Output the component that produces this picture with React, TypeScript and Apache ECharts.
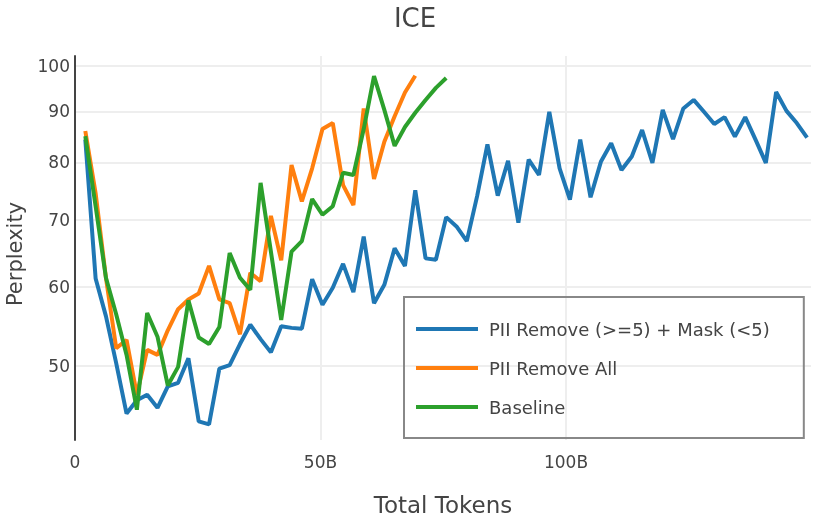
import React, { useEffect, useRef } from "react";
import * as echarts from "echarts";

// Total tokens (billions) at each evaluation checkpoint
const tokens = [
  2.1, 4.2, 6.3, 8.4, 10.5, 12.6, 14.7, 16.8, 18.9, 21, 23.1, 25.2, 27.3, 29.4,
  31.5, 33.6, 35.7, 37.8, 39.9, 42, 44.1, 46.2, 48.3, 50.4, 52.5, 54.6, 56.7,
  58.8, 60.9, 63, 65.1, 67.2, 69.3, 71.4, 73.5, 75.6, 77.7, 79.8, 81.9, 84,
  86.1, 88.2, 90.3, 92.4, 94.5, 96.6, 98.7, 100.8, 102.9, 105, 107.1, 109.2,
  111.3, 113.4, 115.5, 117.6, 119.7, 121.8, 123.9, 126, 128.1, 130.2, 132.3,
  134.4, 136.5, 138.6, 140.7, 142.8, 144.9, 147, 149.1,
];

const piiRemoveMask = [
  84.3, 61.2, 56.1, 50.3, 44.8, 46.2, 46.8, 45.4, 47.7, 48.1, 50.9, 44.0, 43.7,
  49.7, 50.1, 52.6, 55.0, 53.2, 51.6, 54.8, 54.6, 54.5, 61.1, 57.6, 59.9, 63.3,
  59.3, 67.4, 57.8, 60.3, 65.6, 63.0, 75.0, 64.1, 63.9, 70.5, 69.0, 66.7, 74.0,
  83.4, 74.1, 80.3, 69.6, 80.5, 77.7, 89.9, 78.9, 73.4, 84.3, 73.8, 80.1, 83.6,
  78.6, 81.1, 86.2, 79.9, 90.3, 84.4, 90.6, 92.4, 89.9, 87.4, 88.8, 84.9, 88.8,
  84.3, 79.9, 94.1, 90.1, 87.6, 84.7,
];

const piiRemoveAll = [
  86.0, 74.5, 61.3, 52.1, 53.1, 46.8, 51.9, 51.3, 54.3, 57.0, 58.3, 59.1, 63.0,
  58.3, 57.8, 53.8, 62.0, 60.8, 70.7, 63.8, 79.5, 73.1, 78.9, 86.4, 87.6, 75.9,
  72.5, 90.6, 77.0, 83.9, 89.0, 94.0, 97.7,
];

const baseline = [
  85.0, 72.3, 61.3, 56.3, 51.3, 45.2, 56.5, 53.5, 47.8, 49.9, 58.2, 53.4, 52.6,
  54.7, 64.9, 61.3, 59.6, 76.3, 65.1, 55.6, 65.1, 66.7, 73.5, 70.9, 72.3, 78.1,
  77.7, 86.4, 97.6, 90.3, 83.1, 86.8, 89.7, 92.4, 95.0, 97.2,
];

const seriesNames = ["PII Remove (>=5) + Mask (<5)", "PII Remove All", "Baseline"];
const seriesColors = ["#1f77b4", "#ff7f0e", "#2ca02c"];
const xTicks = [0, 50, 100];
const yTicks = [50, 60, 70, 80, 90, 100];

export default function App() {
  const ref = useRef<HTMLDivElement>(null);

  useEffect(() => {
    document.body.style.margin = "0";
    const chart = echarts.init(ref.current as HTMLDivElement, null, { renderer: "svg" });
    const font = "DejaVu Sans";
    const text = "#444";
    const pair = (vals: number[]) => vals.map((v, i) => [tokens[i], v]);
    const allValues = [piiRemoveMask, piiRemoveAll, baseline];

    chart.setOption({
      animation: false,
      textStyle: { fontFamily: font },
      title: {
        text: "ICE",
        left: "center",
        top: 5,
        padding: 0,
        textStyle: { fontSize: 26, fontWeight: "normal", color: text, fontFamily: font },
      },
      grid: {
        left: 75,
        right: 19,
        top: 56,
        bottom: 80,
        containLabel: false,
        outerBoundsMode: "none",
      },
      legend: {
        orient: "vertical",
        left: 404,
        top: 297,
        padding: [23, 34, 22, 12],
        itemGap: 21,
        itemWidth: 62,
        itemHeight: 4,
        icon: "rect",
        borderColor: "#888",
        borderWidth: 2,
        textStyle: { fontSize: 18, color: text, fontFamily: font, padding: [0, 0, 0, 6] },
        data: seriesNames,
      },
      xAxis: {
        type: "value",
        min: 0,
        max: 149.9,
        name: "Total Tokens",
        nameLocation: "middle",
        nameGap: 53,
        nameTextStyle: { fontSize: 23, color: text, fontFamily: font },
        axisLine: { show: false },
        axisTick: { show: false, customValues: xTicks },
        axisLabel: {
          customValues: xTicks,
          margin: 13,
          fontSize: 17,
          color: text,
          fontFamily: font,
          formatter: (v: number) => (v === 0 ? "0" : `${v}B`),
        },
        splitLine: { show: true, lineStyle: { color: "#eee", width: 2 } },
      },
      yAxis: {
        type: "log",
        logBase: 10,
        min: 42.15,
        max: 102.26,
        name: "Perplexity",
        nameLocation: "middle",
        nameGap: 50,
        nameTextStyle: { fontSize: 21, color: text, fontFamily: font, padding: [0, 12, 0, 0] },
        axisLine: { show: true, lineStyle: { color: text, width: 2 } },
        axisTick: { show: false, customValues: yTicks },
        axisLabel: {
          customValues: yTicks,
          margin: 5,
          fontSize: 17,
          color: text,
          fontFamily: font,
          formatter: (v: number) => `${Math.round(v)}`,
        },
        splitLine: { show: true, lineStyle: { color: "#eee", width: 2 } },
      },
      series: allValues.map((vals, i) => ({
        name: seriesNames[i],
        type: "line",
        data: pair(vals),
        showSymbol: false,
        symbol: "none",
        color: seriesColors[i],
        lineStyle: { width: 4, color: seriesColors[i] },
      })),
    });

    return () => chart.dispose();
  }, []);

  return (
    <div
      ref={ref}
      style={{ position: "fixed", left: 0, top: 0, width: 830, height: 520 }}
    />
  );
}
